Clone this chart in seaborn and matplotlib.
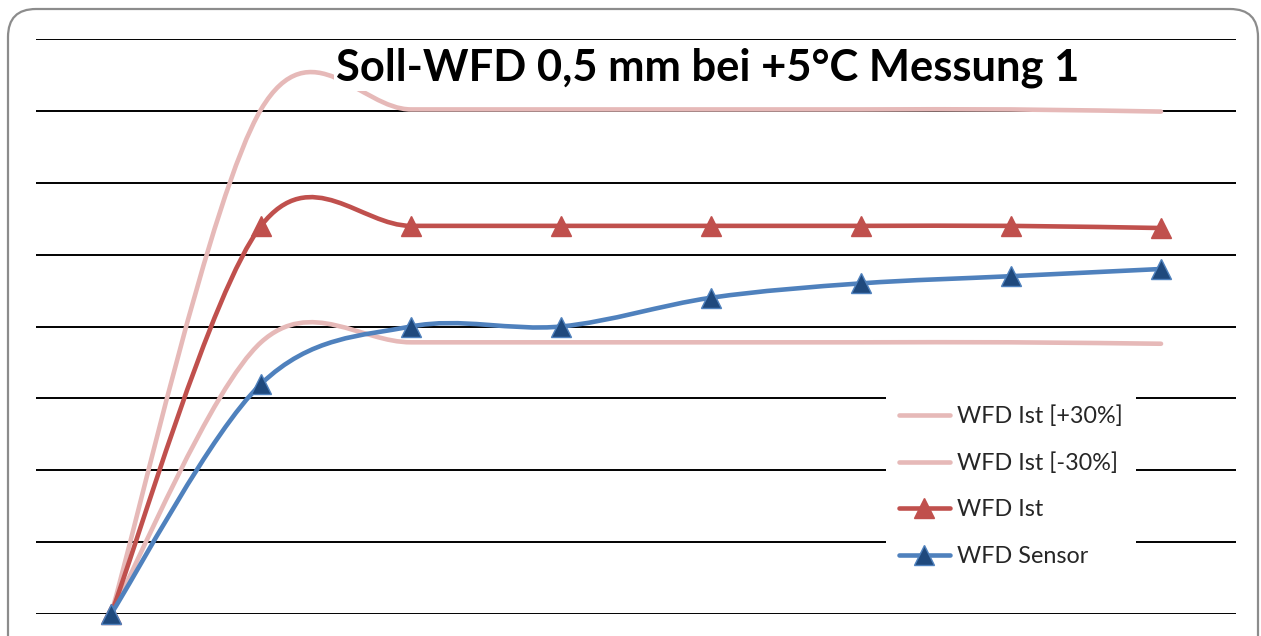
import numpy as np
import pandas as pd
import matplotlib
matplotlib.use("Agg")
import matplotlib.pyplot as plt
import seaborn as sns
from matplotlib.path import Path
from matplotlib.patches import PathPatch, FancyBboxPatch
from matplotlib.lines import Line2D
from matplotlib.transforms import IdentityTransform

# ---- data ----
points = [0, 1, 2, 3, 4, 5, 6, 7]
wfd_plus30 = [0.0, 0.702, 0.702, 0.702, 0.702, 0.702, 0.702, 0.699]
wfd_minus30 = [0.0, 0.378, 0.378, 0.378, 0.378, 0.378, 0.378, 0.376]
wfd_ist = [0.0, 0.54, 0.54, 0.54, 0.54, 0.54, 0.54, 0.537]
wfd_sensor = [0.0, 0.32, 0.40, 0.40, 0.44, 0.46, 0.47, 0.48]
labels = ["WFD Ist [+30%]", "WFD Ist [-30%]", "WFD Ist", "WFD Sensor"]
title = "Soll-WFD 0,5 mm bei +5°C Messung 1"

C_PINK = "#E6B9B8"
C_RED = "#C0504D"
C_BLUE = "#4F81BD"
C_DBLUE = "#1F497D"

sns.set_theme(style="white")
plt.rcParams['font.family'] = ['Lato', 'DejaVu Sans']

fig = plt.figure(figsize=(12.61, 6.36), dpi=100)
ax = fig.add_axes([36/1261, 22/636, 1200/1261, 575/636])
ax.set_xlim(-0.5, 7.5)
ax.set_ylim(0, 0.8)
ax.set_yticks(np.arange(0, 0.81, 0.1))
ax.set_xticks([])
ax.yaxis.grid(True, color="black", lw=1.4)
ax.tick_params(left=False, bottom=False, labelleft=False, labelbottom=False)
for s in ax.spines.values():
    s.set_visible(False)
ax.set_xlabel("")
ax.set_ylabel("")


def smooth_path(xs, ys):
    pts = np.column_stack([xs, ys]).astype(float)
    n = len(pts)
    verts = [pts[0]]
    codes = [Path.MOVETO]
    for i in range(n - 1):
        p0 = pts[i - 1] if i > 0 else pts[i]
        p1 = pts[i]
        p2 = pts[i + 1]
        p3 = pts[i + 2] if i + 2 < n else pts[i + 1]
        c1 = p1 + (p2 - p0) / 6.0
        c2 = p2 - (p3 - p1) / 6.0
        verts += [c1, c2, p2]
        codes += [Path.CURVE4] * 3
    return Path(verts, codes)


LW = 3.3
MS = 14
series = [
    (wfd_plus30, C_PINK, None, None, 3),
    (wfd_minus30, C_PINK, None, None, 3),
    (wfd_ist, C_RED, C_RED, C_RED, 4),
    (wfd_sensor, C_BLUE, C_DBLUE, C_BLUE, 5),
]
for vals, col, mfc, mec, z in series:
    ax.add_patch(PathPatch(smooth_path(points, vals), fill=False, edgecolor=col,
                           lw=LW, capstyle="round", joinstyle="round", zorder=z))
    if mfc is not None:
        df = pd.DataFrame({"x": points, "y": vals})
        sns.lineplot(data=df, x="x", y="y", ax=ax, marker="^", markersize=MS,
                     linewidth=0, color=mfc, markerfacecolor=mfc,
                     markeredgecolor=mec, markeredgewidth=1.0, zorder=z + 0.5,
                     clip_on=False)

handles = [
    Line2D([], [], color=C_PINK, lw=LW, solid_capstyle="round"),
    Line2D([], [], color=C_PINK, lw=LW, solid_capstyle="round"),
    Line2D([], [], color=C_RED, lw=LW, marker="^", markersize=MS,
           markerfacecolor=C_RED, markeredgecolor=C_RED, solid_capstyle="round"),
    Line2D([], [], color=C_BLUE, lw=LW, marker="^", markersize=MS,
           markerfacecolor=C_DBLUE, markeredgecolor=C_BLUE, solid_capstyle="round"),
]
leg = ax.legend(handles, labels, loc="upper left",
                bbox_to_anchor=(886/1261, 1 - 393/636), bbox_transform=fig.transFigure,
                frameon=True, facecolor="white", edgecolor="none", framealpha=1,
                fontsize=16.8, handlelength=2.2, handletextpad=0.3,
                labelspacing=1.08, borderpad=0.55, borderaxespad=0)
leg.set_zorder(10)
leg.get_frame().set_boxstyle("square", pad=0)

fig.text(708/1261, 1 - 68/636, title, ha="center", va="center",
         fontsize=31.3, fontweight="bold", color="black",
         bbox=dict(facecolor="white", edgecolor="none", pad=2), zorder=10)

border = FancyBboxPatch((8, -40), 1250, 627 + 40,
                        boxstyle="round,pad=0,rounding_size=28",
                        transform=IdentityTransform(), facecolor="none",
                        edgecolor="#8C8C8C", lw=1.6, zorder=20)
fig.patches.append(border)

fig.savefig("out.png", dpi=100)
